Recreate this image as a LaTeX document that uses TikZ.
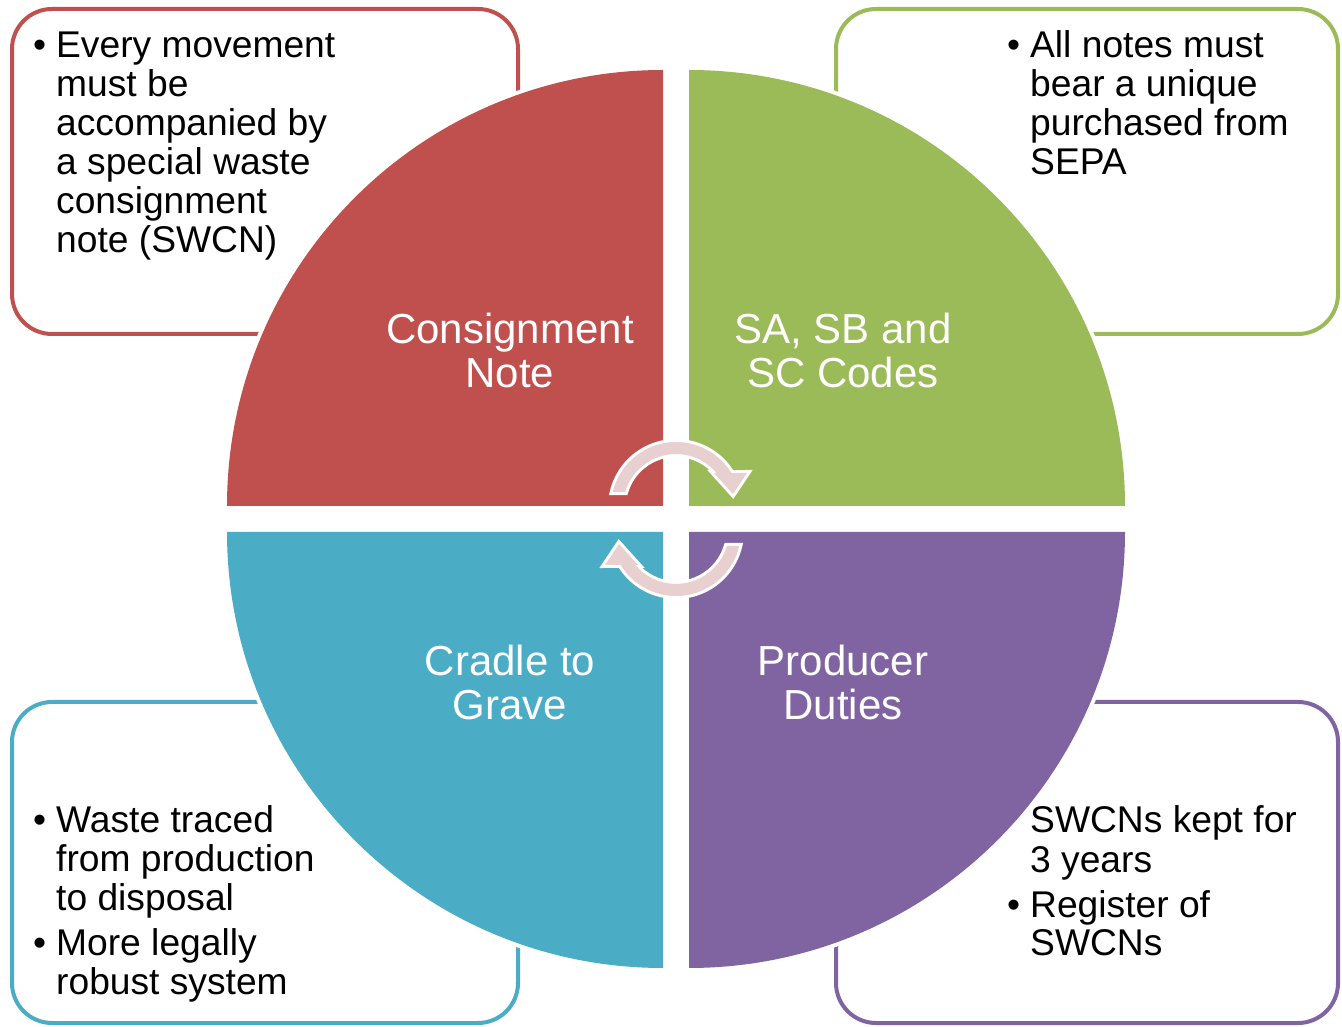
\documentclass[tikz,border=0pt]{standalone}
\usepackage{fontspec}
\setmainfont{Liberation Sans}
\usetikzlibrary{positioning}

\definecolor{noteRed}{HTML}{C0504D}
\definecolor{codeGreen}{HTML}{9BBB59}
\definecolor{dutyPurple}{HTML}{8064A2}
\definecolor{cradleBlue}{HTML}{4BACC6}
\definecolor{turnPink}{HTML}{E8D0D0}

\newcommand{\itm}{\llap{\textbullet\hspace{10pt}}}

\begin{document}
\begin{tikzpicture}[x=1pt, y=1pt,
	quad/.style={fill=#1, preaction={draw=white, line width=8pt}},
	infobox/.style={draw=#1, line width=4pt, rounded corners=40pt},
	quadlabel/.style={text=white, align=center, font=\fontsize{42}{44}\selectfont, inner sep=0pt, anchor=base},
	infotext/.style={align=left, font=\fontsize{37.2}{39}\selectfont, inner sep=0pt, anchor=base west},
	turnarrow/.style={fill=turnPink, preaction={draw=white, line width=6pt, line join=miter}}]

	\useasboundingbox (0,0) rectangle (1342,1026);

	% boxes behind the circle
	\draw[infobox=noteRed] (12,1017) rectangle (518,692);
	\draw[infobox=codeGreen] (836,1017) rectangle (1338,692);
	\draw[infobox=cradleBlue] (12,324) rectangle (518,3);
	\draw[infobox=dutyPurple] (836,324) rectangle (1338,3);

	% four quarters
	\path[quad=noteRed] (663,520) -- (227,520) arc[start angle=180, end angle=90, radius=436pt] -- cycle;
	\path[quad=codeGreen] (689,520) -- (689,956) arc[start angle=90, end angle=0, radius=436pt] -- cycle;
	\path[quad=dutyPurple] (689,494) -- (1125,494) arc[start angle=0, end angle=-90, radius=436pt] -- cycle;
	\path[quad=cradleBlue] (663,494) -- (663,58) arc[start angle=270, end angle=180, radius=436pt] -- cycle;

	% labels sit on the baseline of their last line
	\node[quadlabel] (note) at (510,638) {Consignment\\Note};
	\node[quadlabel] (codes) at (843,638) {SA, SB and\\SC Codes};
	\node[quadlabel] (cradle) at (510,306) {Cradle to\\Grave};
	\node[quadlabel] (duties) at (843,306) {Producer\\Duties};

	\node[infotext] (noteinfo) at (56,773) {\itm Every movement\\must be\\accompanied by\\a special waste\\consignment\\note (SWCN)};
	\node[infotext] (codesinfo) at (1030,851) {\itm All notes must\\bear a unique\\purchased from\\SEPA};
	\node[infotext] (cradleinfo) at (56,31) {\itm Waste traced\\from production\\to disposal\\[6pt]\itm More legally\\robust system};
	\node[infotext] (dutiesinfo) at (1030,70) {SWCNs kept for\\3 years\\[6pt]\itm Register of\\SWCNs};

	% turning arrows in the middle
	\begin{scope}[shift={(676,519)}]
		\path[turnarrow] (166.7:65) arc[start angle=166.7, end angle=31.5, radius=65pt]
			-- (71,34) -- (57,13) -- (38,34) -- (40.6,34)
			arc[start angle=40, end angle=163.6, radius=53pt] -- cycle;
	\end{scope}
	\begin{scope}[shift={(676,495)}, rotate=180]
		\path[turnarrow] (166.7:65) arc[start angle=166.7, end angle=31.5, radius=65pt]
			-- (71,34) -- (57,13) -- (38,34) -- (40.6,34)
			arc[start angle=40, end angle=163.6, radius=53pt] -- cycle;
	\end{scope}

\end{tikzpicture}
\end{document}
